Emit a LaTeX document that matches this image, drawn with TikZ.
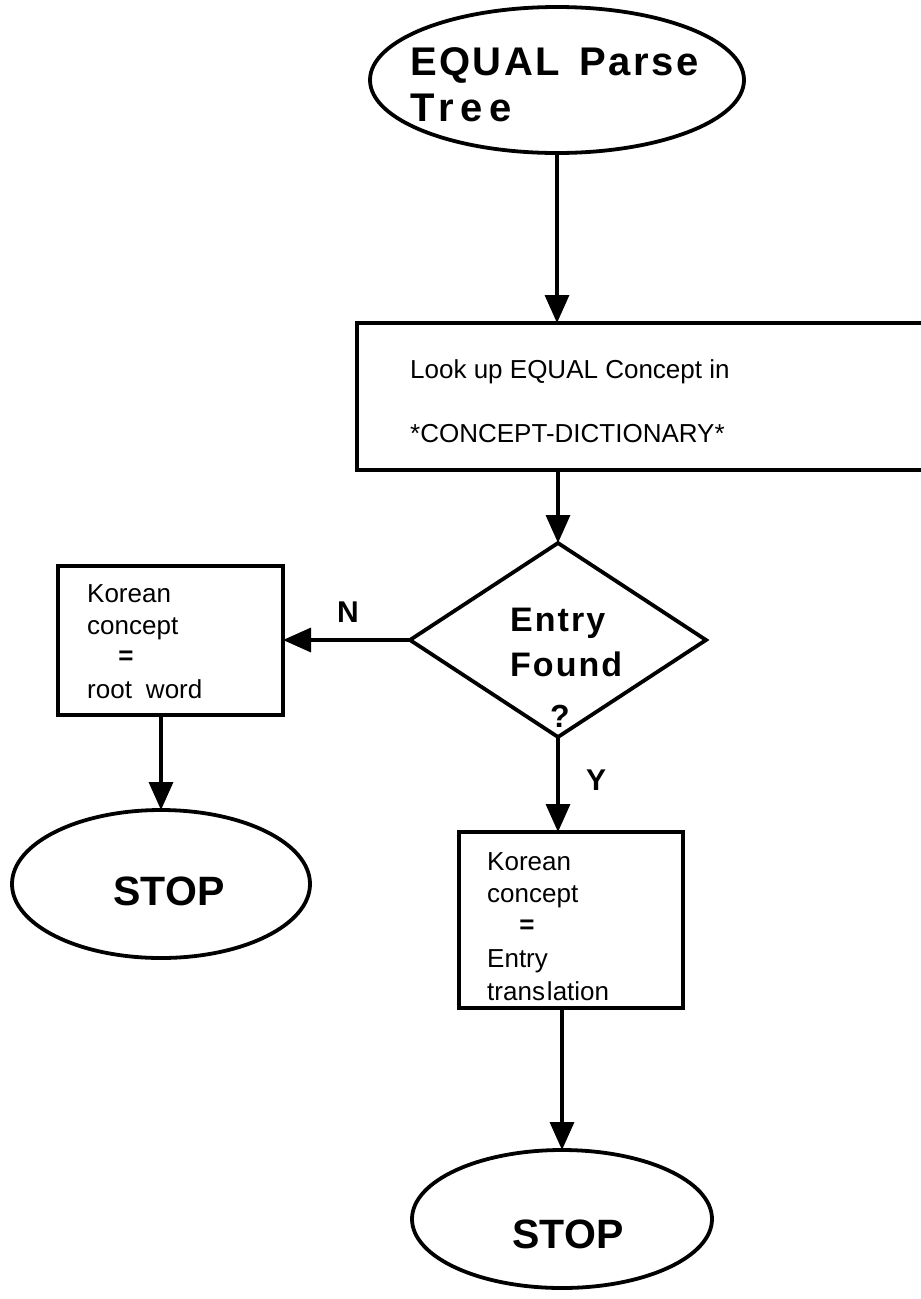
\documentclass[tikz,border=0pt]{standalone}
\usepackage{fontspec}
\setmainfont{Liberation Sans}
\newfontfamily\hfont[LetterSpace=6]{Liberation Sans}
\usetikzlibrary{shapes.geometric,arrows.meta}
\begin{document}
\begin{tikzpicture}[x=1pt,y=-1pt,
  outline/.style={draw=black, line width=3.8pt, inner sep=0pt, outer sep=0pt},
  ovalnode/.style={outline, ellipse},
  boxnode/.style={outline, rectangle},
  decnode/.style={outline, diamond},
  flow/.style={draw=black, line width=3.4pt, -{Triangle[length=28pt,width=24pt]}},
  boxtext/.style={anchor=base west, inner sep=0pt, font=\fontsize{26}{30}\selectfont},
  eqtext/.style={inner sep=0pt, font=\fontsize{26}{30}\selectfont\bfseries},
  headtext/.style={anchor=base west, inner sep=0pt, font=\fontsize{40}{44}\hfont\bfseries},
  dectext/.style={anchor=base west, inner sep=0pt, font=\fontsize{34}{38}\hfont\bfseries},
  stoptext/.style={anchor=base, inner sep=0pt, font=\fontsize{41}{44}\selectfont\bfseries},
  lbl/.style={inner sep=0pt, font=\fontsize{30}{34}\selectfont\bfseries}
]
\useasboundingbox[fill=white] (0,0) rectangle (921,1299);

% shapes
\node[ovalnode, minimum width=374pt, minimum height=146pt] (start) at (557,80) {};
\node[boxnode, minimum width=568pt, minimum height=147pt] (lookup) at (641,396.5) {};
\node[decnode, minimum width=296pt, minimum height=194pt] (decide) at (558,640) {};
\node[boxnode, minimum width=225pt, minimum height=149pt] (nbox) at (170.5,640.5) {};
\node[boxnode, minimum width=224pt, minimum height=176pt] (ybox) at (571,920) {};
\node[ovalnode, minimum width=298pt, minimum height=148pt] (stopL) at (161,884) {};
\node[ovalnode, minimum width=300pt, minimum height=138pt] (stopR) at (562,1219) {};

% texts
\node[headtext] (t1) at (410,75) {EQUAL\hspace{20pt}Parse};
\node[headtext] (t2) at (410,121) {\addfontfeature{LetterSpace=16}Tree};
\node[boxtext] (l1) at (410,378) {Look up EQUAL Concept in};
\node[boxtext] (l2) at (410,442) {*CONCEPT-DICTIONARY*};
\node[dectext] (d1) at (510,631) {Entry};
\node[dectext] (d2) at (510,676) {Found};
\node[lbl, font=\fontsize{32}{36}\selectfont\bfseries] (d3) at (560,716) {?};
\node[boxtext] (n1) at (87,602) {Korean};
\node[boxtext] (n2) at (87,634) {concept};
\node[eqtext] (n3) at (126,658) {=};
\node[boxtext] (n4) at (87,698) {root\hspace{14pt}word};
\node[boxtext] (y1) at (487,870) {Korean};
\node[boxtext] (y2) at (487,902) {concept};
\node[eqtext] (y3) at (527,927) {=};
\node[boxtext] (y4) at (487,967) {Entry};
\node[boxtext] (y5) at (487,1000) {trans\hspace{2pt}lation};
\node[stoptext] (s1) at (169,905) {STOP};
\node[stoptext] (s2) at (568,1248) {STOP};
\node[lbl] (lN) at (348,612) {N};
\node[lbl] (lY) at (596,780) {Y};

% connectors
\draw[flow] (start.south) -- (start.south |- lookup.north);
\draw[flow] (decide.north |- lookup.south) -- (decide.north);
\draw[flow] (decide.west) -- (decide.west -| nbox.east);
\draw[flow] (stopL.north |- nbox.south) -- (stopL.north);
\draw[flow] (decide.south) -- (decide.south |- ybox.north);
\draw[flow] (stopR.north |- ybox.south) -- (stopR.north);
\end{tikzpicture}
\end{document}
